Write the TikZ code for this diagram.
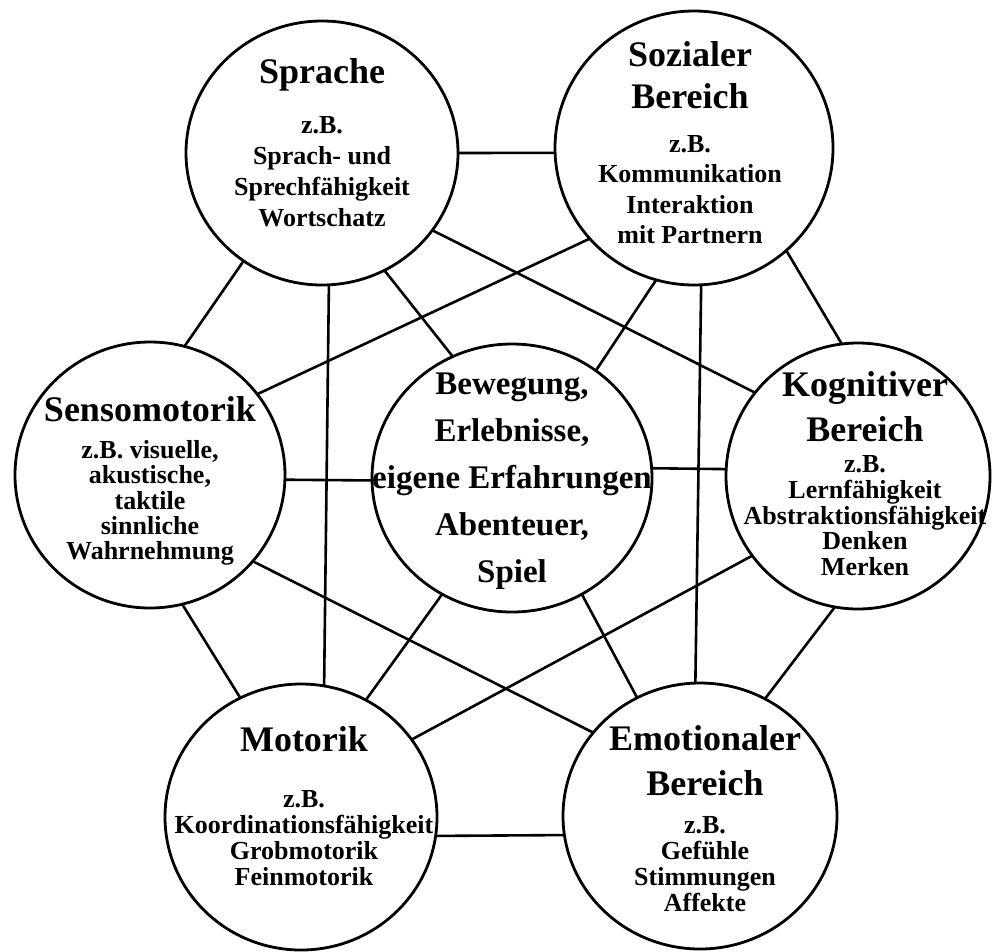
\documentclass[tikz,border=0pt]{standalone}
\usepackage{fontspec}
\setmainfont{Liberation Serif}
\usetikzlibrary{shapes.geometric}
\begin{document}
\begin{tikzpicture}[x=1pt,y=-1pt,
  area/.style={draw, ellipse, line width=2.8pt, inner sep=0pt, outer sep=0pt},
  link/.style={line width=2.6pt},
  ttl/.style={anchor=north, align=center, inner sep=0pt, font=\bfseries\fontsize{36}{#1}\selectfont},
  ttl/.default=42,
  sub/.style={anchor=north, align=center, inner sep=0pt, font=\bfseries\fontsize{26}{#1}\selectfont},
  sub/.default=26,
  mid/.style={anchor=north, align=center, inner sep=0pt, font=\bfseries\fontsize{33}{47}\selectfont}
]
\useasboundingbox (0,0) rectangle (992,951);

% circles
\node[area, minimum width=272pt, minimum height=264pt] (sp) at (322,153) {};
\node[area, minimum width=278pt, minimum height=274pt] (so) at (694,148) {};
\node[area, minimum width=270pt, minimum height=266pt] (se) at (150,475) {};
\node[area, minimum width=280pt, minimum height=268pt] (ce) at (512,478) {};
\node[area, minimum width=264pt, minimum height=266pt] (ko) at (858,476) {};
\node[area, minimum width=272pt, minimum height=266pt] (mo) at (301,817) {};
\node[area, minimum width=274pt, minimum height=266pt] (em) at (700,816) {};

% texts
\node[ttl] (spT) at (322,58.5) {Sprache};
\node[sub=31] (spS) at (322,116.4) {z.B.\\Sprach- und\\Sprechfähigkeit\\Wortschatz};

\node[ttl=42] (soT) at (690,41.5) {Sozialer\\Bereich};
\node[sub=30.3] (soS) at (690,135.4) {z.B.\\Kommunikation\\Interaktion\\mit Partnern};

\node[ttl] (seT) at (150,396.5) {Sensomotorik};
\node[sub=25.3] (seS) at (150,440.4) {z.B. visuelle,\\akustische,\\taktile\\sinnliche\\Wahrnehmung};

\node[mid] (ceT) at (512,372.7) {Bewegung,\\Erlebnisse,\\eigene Erfahrungen\\Abenteuer,\\Spiel};

\node[ttl=45] (koT) at (865,371.5) {Kognitiver\\Bereich};
\node[sub=25.7] (koS) at (865,455.4) {z.B.\\Lernfähigkeit\\Abstraktionsfähigkeit\\Denken\\Merken};

\node[ttl] (moT) at (304,726.5) {Motorik};
\node[sub=26] (moS) at (304,790.4) {z.B.\\Koordinationsfähigkeit\\Grobmotorik\\Feinmotorik};

\node[ttl=45] (emT) at (705,725.5) {Emotionaler\\Bereich};
\node[sub=26] (emS) at (705,816.4) {z.B.\\Gefühle\\Stimmungen\\Affekte};

% connectors
\draw[link] (sp.0) -- (so.182);
\draw[link] (sp.234) -- (se.75);
\draw[link] (sp.273) -- (mo.80);
\draw[link] (sp.298) -- (ce.116);
\draw[link] (sp.325) -- (ko.141);
\draw[link] (so.221) -- (se.37);
\draw[link] (so.254) -- (ce.52);
\draw[link] (so.273) -- (em.92);
\draw[link] (so.312) -- (ko.97);
\draw[link] (se.358) -- (ce.181);
\draw[link] (se.284) -- (mo.117);
\draw[link] (se.320) -- (em.142);
\draw[link] (ce.4) -- (ko.177);
\draw[link] (ce.239) -- (mo.61);
\draw[link] (ce.301) -- (em.118);
\draw[link] (ko.217) -- (mo.35);
\draw[link] (ko.260) -- (em.61);
\draw[link] (mo.352) -- (em.188);
\end{tikzpicture}
\end{document}
